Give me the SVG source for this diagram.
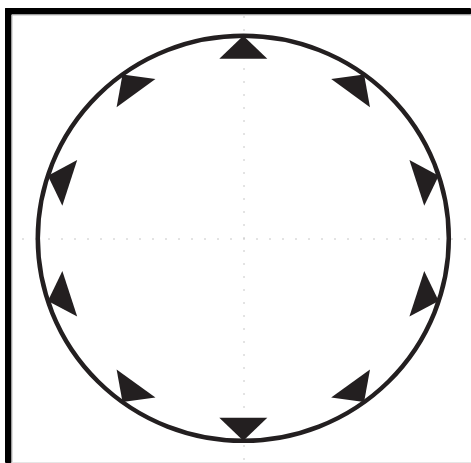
<svg xmlns="http://www.w3.org/2000/svg" width="471" height="463" viewBox="0 0 471 463">
<style>
.frame{fill:#000}
.guide{stroke:#c8c8c8;stroke-width:1;stroke-dasharray:2 11;fill:none}
.ring{fill:none;stroke:#231f20;stroke-width:4.5}
.tri{fill:#231f20}
</style>
<defs>
<polygon id="arrow" points="0,0 -24,23 24,23"/>
</defs>
<rect width="471" height="463" fill="#fff"/>
<g id="frame">
<rect class="frame" x="5" y="8" width="466" height="6.5" rx="1"/>
<rect class="frame" x="5" y="8" width="6.5" height="455" rx="1"/>
<line x1="12" y1="15" x2="471" y2="15" stroke="#bbb" stroke-width="1"/>
<line x1="12" y1="15" x2="12" y2="463" stroke="#bbb" stroke-width="1"/>
<line x1="12" y1="462.5" x2="471" y2="462.5" stroke="#e6e6e6" stroke-width="1"/>
</g>
<g id="guides">
<line class="guide" x1="22" y1="239" x2="466" y2="239"/>
<line class="guide" x1="244" y1="16" x2="244" y2="462"/>
</g>
<g id="circle">
<ellipse class="ring" cx="243.3" cy="238.3" rx="205.5" ry="202.5"/>
</g>
<g id="arrows" class="tri">
<use href="#arrow" transform="translate(243.3,35.8) rotate(0)"/>
<use href="#arrow" transform="translate(364.1,74.5) rotate(36)"/>
<use href="#arrow" transform="translate(438.7,175.7) rotate(72)"/>
<use href="#arrow" transform="translate(438.7,300.9) rotate(108)"/>
<use href="#arrow" transform="translate(364.1,402.1) rotate(144)"/>
<use href="#arrow" transform="translate(243.3,440.8) rotate(180)"/>
<use href="#arrow" transform="translate(122.5,402.1) rotate(216)"/>
<use href="#arrow" transform="translate(47.9,300.9) rotate(252)"/>
<use href="#arrow" transform="translate(47.9,175.7) rotate(288)"/>
<use href="#arrow" transform="translate(122.5,74.5) rotate(324)"/>
</g>
</svg>
